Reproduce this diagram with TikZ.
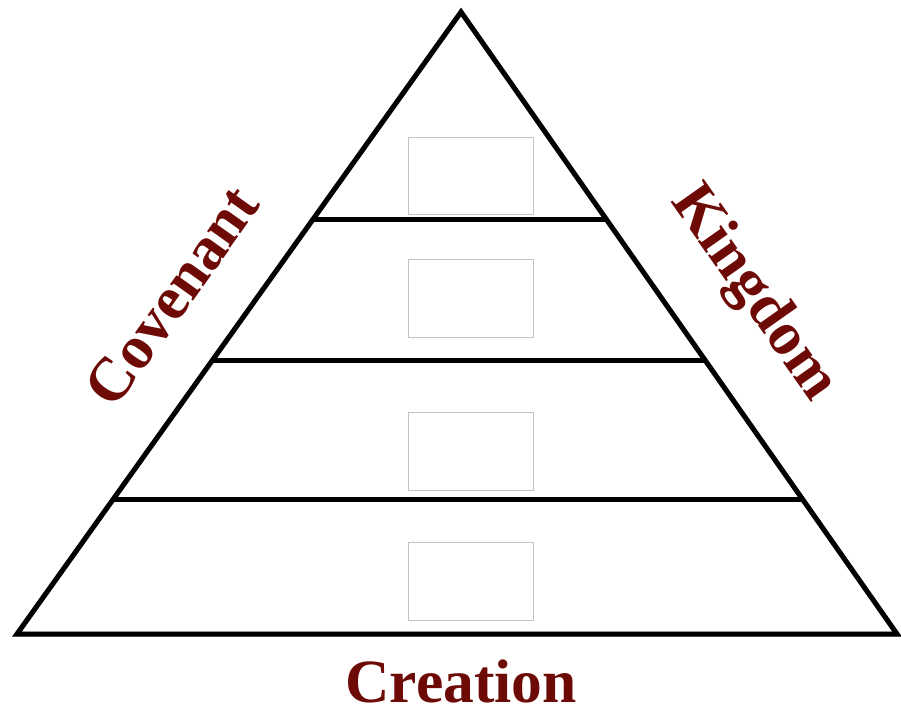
\documentclass[tikz,border=0pt]{standalone}
\usepackage{fontspec}
\setmainfont{Liberation Serif}
\usepackage{tikz}
\usetikzlibrary{calc, positioning}
\definecolor{wordred}{RGB}{110, 10, 5}
\definecolor{boxgray}{RGB}{195, 195, 195}

\begin{document}
\begin{tikzpicture}[x=0.02cm, y=-0.02cm,
  edge/.style={line width=0.1cm, line join=miter},
  edgeshadow/.style={line width=0.1cm, draw=black!25, yshift=-0.05cm},
  slot/.style={draw=boxgray, line width=0.02cm, minimum width=2.52cm, minimum height=1.56cm, inner sep=0pt},
  word/.style={text=wordred, font=\fontsize{35}{40}\selectfont\bfseries, inner sep=0pt}]
  \useasboundingbox (0, 0) rectangle (901, 706);

  % Corners of the pyramid
  \coordinate (top) at (461, 12);
  \coordinate (bl) at (17, 634);
  \coordinate (br) at (897, 634);

  % Tier dividers
  \coordinate (d1l) at ($(top)!0.334!(bl)$);
  \coordinate (d1r) at ($(top)!0.334!(br)$);
  \coordinate (d2l) at ($(top)!0.561!(bl)$);
  \coordinate (d2r) at ($(top)!0.561!(br)$);
  \coordinate (d3l) at ($(top)!0.783!(bl)$);
  \coordinate (d3r) at ($(top)!0.783!(br)$);

  % Soft shadow under the lines
  \draw[edgeshadow] (top) -- (bl) -- (br) -- cycle;
  \draw[edgeshadow] (d1l) -- (d1r);
  \draw[edgeshadow] (d2l) -- (d2r);
  \draw[edgeshadow] (d3l) -- (d3r);

  % Pyramid
  \draw[edge] (top) -- (bl) -- (br) -- cycle;
  \draw[edge] (d1l) -- (d1r);
  \draw[edge] (d2l) -- (d2r);
  \draw[edge] (d3l) -- (d3r);

  % Empty boxes in each tier
  \node[slot] (slot1) at (471, 176) {};
  \node[slot] (slot2) at (471, 298.5) {};
  \node[slot] (slot3) at (471, 451) {};
  \node[slot] (slot4) at (471, 581) {};

  % Side and base words
  \node[word, rotate=54.5] (covenant) at (172, 296) {Covenant};
  \node[word, rotate=-54.8] (kingdom) at (753, 294) {Kingdom};
  \node[word, anchor=base] (creation) at (461, 702) {Creation};
\end{tikzpicture}
\end{document}
